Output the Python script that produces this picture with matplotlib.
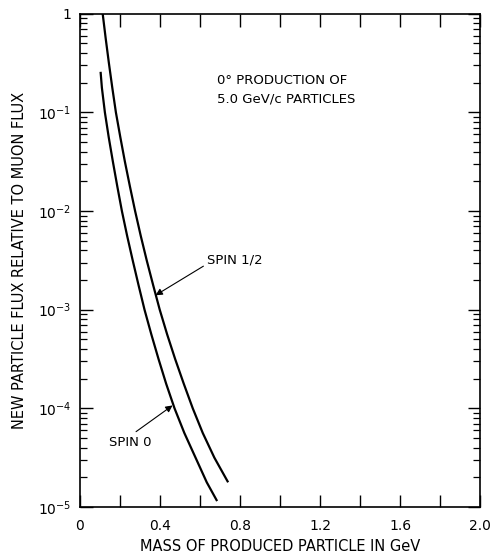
import numpy as np
import matplotlib
matplotlib.use("Agg")
import matplotlib.pyplot as plt
from matplotlib.ticker import FixedLocator, NullFormatter

# flux vs mass (mass in GeV, log10 of flux)
mass_half = [0.114, 0.129, 0.145, 0.162, 0.180, 0.202, 0.225, 0.250, 0.276, 0.304,
             0.334, 0.366, 0.399, 0.436, 0.476, 0.519, 0.564, 0.614, 0.672, 0.738]
logf_half = [0.0, -0.25, -0.5, -0.75, -1.0, -1.25, -1.5, -1.75, -2.0, -2.25,
             -2.5, -2.75, -3.0, -3.25, -3.5, -3.75, -4.0, -4.25, -4.5, -4.74]
mass_zero = [0.104, 0.110, 0.125, 0.144, 0.165, 0.187, 0.210, 0.236, 0.264, 0.293,
             0.323, 0.357, 0.393, 0.431, 0.473, 0.522, 0.578, 0.634, 0.683]
logf_zero = [-0.6, -0.75, -1.0, -1.25, -1.5, -1.75, -2.0, -2.25, -2.5, -2.75,
             -3.0, -3.25, -3.5, -3.75, -4.0, -4.25, -4.5, -4.75, -4.93]

x_ticks = np.arange(0, 2.01, 0.2)
x_labels = ["0", "", "0.4", "", "0.8", "", "1.2", "", "1.6", "", "2.0"]
y_ticks = [1e-5, 1e-4, 1e-3, 1e-2, 1e-1, 1]
y_labels = ["10$^{-5}$", "10$^{-4}$", "10$^{-3}$", "10$^{-2}$", "10$^{-1}$", "1"]

plt.rcParams["font.family"] = ["DejaVu Sans"]
plt.rcParams["mathtext.default"] = "regular"

fig = plt.figure(figsize=(4.93, 5.58), dpi=100)
ax = fig.add_axes([0.162, 0.0914, 0.812, 0.884])

ax.plot(mass_half, 10 ** np.array(logf_half), color="black", lw=1.6)
ax.plot(mass_zero, 10 ** np.array(logf_zero), color="black", lw=1.6)

ax.set_yscale("log")
ax.set_xlim(0, 2.0)
ax.set_ylim(1e-5, 1)

ax.set_xticks(x_ticks)
ax.set_xticklabels(x_labels)
ax.set_yticks(y_ticks)
ax.set_yticklabels(y_labels)
minors = [m * 10.0 ** e for e in range(-5, 0) for m in range(2, 10)]
ax.yaxis.set_minor_locator(FixedLocator(minors))
ax.yaxis.set_minor_formatter(NullFormatter())

ax.tick_params(axis="both", which="major", direction="in", top=True, right=True,
               length=9, width=1.0, labelsize=10, pad=6)
ax.tick_params(axis="x", which="major", pad=9)
ax.tick_params(axis="y", which="minor", direction="in", left=True, right=True,
               length=5, width=0.9)
for s in ax.spines.values():
    s.set_linewidth(1.2)

ax.set_xlabel("MASS OF PRODUCED PARTICLE IN GeV", fontsize=10.5, labelpad=4)
ax.set_ylabel("NEW PARTICLE FLUX RELATIVE TO MUON FLUX", fontsize=10.5, labelpad=8)

ax.text(0.342, 0.846, "0° PRODUCTION OF\n5.0 GeV/c PARTICLES", fontsize=9.5,
        va="center", ha="left", linespacing=1.5, transform=ax.transAxes)

ax.annotate("SPIN 1/2", xy=(0.378, 1.4e-3), xytext=(0.637, 3.2e-3),
            fontsize=9.5, va="center", ha="left",
            arrowprops=dict(arrowstyle="-|>", color="black", lw=0.8,
                            shrinkA=1, shrinkB=0, mutation_scale=10,
                            relpos=(0.0, 0.2)))
ax.annotate("SPIN 0", xy=(0.463, 1.07e-4), xytext=(0.144, 4.5e-5),
            fontsize=9.5, va="center", ha="left",
            arrowprops=dict(arrowstyle="-|>", color="black", lw=0.8,
                            shrinkA=2, shrinkB=0, mutation_scale=10,
                            relpos=(0.5, 1.0)))

fig.savefig("out.png", dpi=100)
